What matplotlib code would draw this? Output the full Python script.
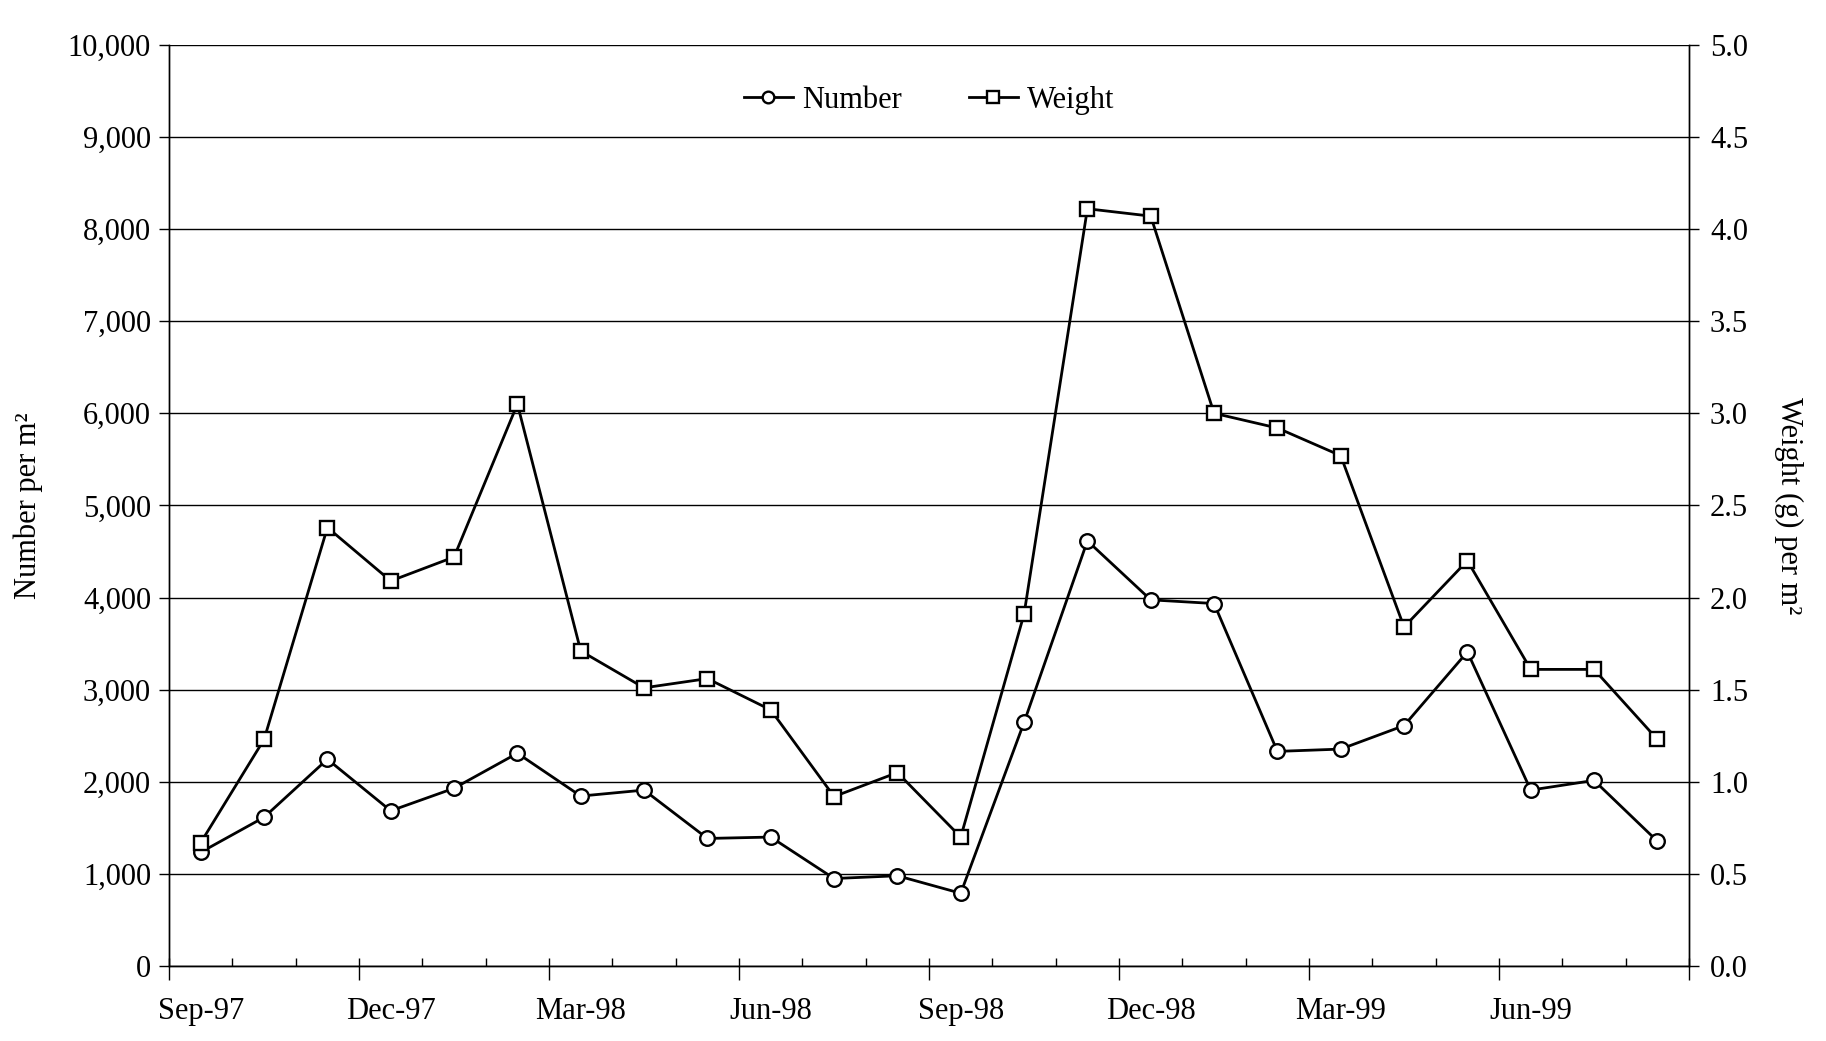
import numpy as np
import matplotlib
matplotlib.use("Agg")
import matplotlib.pyplot as plt
from matplotlib.ticker import FixedLocator, FuncFormatter, NullFormatter

plt.rcParams['font.family'] = ['Liberation Serif', 'DejaVu Serif']

# monthly samples, Sep-97 .. Aug-99
months = ['Sep-97', 'Oct-97', 'Nov-97', 'Dec-97', 'Jan-98', 'Feb-98', 'Mar-98', 'Apr-98',
          'May-98', 'Jun-98', 'Jul-98', 'Aug-98', 'Sep-98', 'Oct-98', 'Nov-98', 'Dec-98',
          'Jan-99', 'Feb-99', 'Mar-99', 'Apr-99', 'May-99', 'Jun-99', 'Jul-99', 'Aug-99']
number = [1235, 1615, 2245, 1685, 1930, 2310, 1845, 1910, 1385, 1400, 950, 980,
          790, 2645, 4615, 3975, 3935, 2330, 2355, 2610, 3410, 1910, 2015, 1355]
weight = [0.67, 1.23, 2.38, 2.09, 2.22, 3.05, 1.71, 1.51, 1.56, 1.39, 0.92, 1.05,
          0.70, 1.91, 4.11, 4.07, 3.00, 2.92, 2.77, 1.84, 2.20, 1.61, 1.61, 1.23]
tick_labels = ['Sep-97', 'Dec-97', 'Mar-98', 'Jun-98', 'Sep-98', 'Dec-98', 'Mar-99', 'Jun-99']

x = np.arange(len(months)) + 0.5   # points sit mid-month
FS = 22

fig = plt.figure(figsize=(18.26, 10.41), dpi=100)
ax = fig.add_axes([0.0926, 0.072, 0.8324, 0.885])
ax2 = ax.twinx()

l1, = ax.plot(x, number, color='black', lw=2.0, marker='o', ms=10.5,
              mfc='white', mec='black', mew=1.7, label='Number', zorder=3)
l2, = ax2.plot(x, weight, color='black', lw=2.0, marker='s', ms=10.5,
               mfc='white', mec='black', mew=1.7, label='Weight', zorder=3)

ax.set_xlim(0, len(months))
ax.set_ylim(0, 10000)
ax2.set_ylim(0, 5.0)

ax.set_yticks(np.arange(0, 10001, 1000))
ax.yaxis.set_major_formatter(FuncFormatter(lambda v, p: f"{int(v):,}"))
ax2.set_yticks(np.arange(0, 5.01, 0.5))
ax2.yaxis.set_major_formatter(FuncFormatter(lambda v, p: f"{v:.1f}"))

# labels sit in the middle of their month, ticks on the month boundaries
ax.xaxis.set_major_locator(FixedLocator(np.arange(0, 22, 3) + 0.5))
ax.set_xticklabels(tick_labels)
ax.xaxis.set_minor_locator(FixedLocator(np.arange(0, 25, 1)))
ax.tick_params(axis='x', which='major', length=0, pad=22, labelsize=FS)
ax.tick_params(axis='x', which='minor', direction='in', length=6, width=1)

qax = ax.secondary_xaxis('bottom')
qax.xaxis.set_major_locator(FixedLocator(np.arange(0, 25, 3)))
qax.xaxis.set_major_formatter(NullFormatter())
qax.tick_params(axis='x', direction='out', length=10, width=1)
qax.spines['bottom'].set_visible(False)

ax.grid(axis='y', color='black', lw=1.0)
ax.set_axisbelow(True)
for a in (ax, ax2):
    a.spines['top'].set_visible(False)
    for s in ['left', 'right', 'bottom']:
        a.spines[s].set_linewidth(1.0)

ax.tick_params(axis='y', direction='out', length=7, width=1, labelsize=FS, pad=6)
ax2.tick_params(axis='y', direction='out', length=7, width=1, labelsize=FS, pad=8)

ax.set_ylabel('Number per m²', fontsize=FS, labelpad=18)
ax2.set_ylabel('Weight (g) per m²', fontsize=FS, rotation=270, labelpad=40)

ax.legend([l1, l2], ['Number', 'Weight'], loc='upper center', bbox_to_anchor=(0.5, 0.985),
          ncol=2, frameon=False, fontsize=FS, handlelength=1.6, columnspacing=2.2,
          handletextpad=0.3, markerscale=0.8)

fig.savefig('out.png', dpi=100)
